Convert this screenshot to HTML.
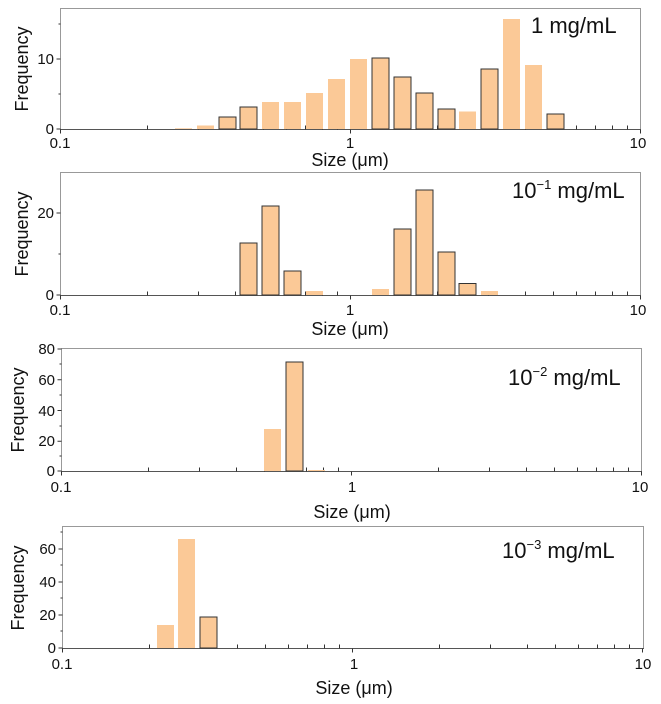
<!DOCTYPE html>
<html><head><meta charset="utf-8"><style>
body{margin:0;background:#fff}
svg{display:block;font-family:"Liberation Sans",sans-serif}
.b{fill:#fbc997}
.o{fill:#fbc997;stroke:#333;stroke-width:1}
.t{font-size:15px;fill:#111}
.l{font-size:18px;fill:#111}
.a{font-size:22px;fill:#111}
</style></head><body>
<svg width="661" height="704" viewBox="0 0 661 704">
<defs>
<g id="xt" stroke="#333" stroke-width="1">
<path d="M0 0v4M290 0v4M580 0v4M87 0v-4M138 0v-4M175 0v-4M203 0v-4M226 0v-4M245 0v-4M262 0v-4M277 0v-4M377 0v-4M428 0v-4M465 0v-4M493 0v-4M516 0v-4M535 0v-4M552 0v-4M567 0v-4"/>
</g>
</defs>

<!-- Panel 1 -->
<rect x="60.5" y="8.5" width="580" height="121" fill="none" stroke="#999"/>
<line x1="60" y1="129.5" x2="641" y2="129.5" stroke="#555"/>
<use href="#xt" x="60.5" y="129.5"/>
<g>
<rect class="b" x="175" y="128.3" width="17" height="0.7"/>
<rect class="b" x="197" y="125.5" width="17" height="3.5"/>
<rect class="o" x="219" y="117" width="17" height="12"/>
<rect class="o" x="240" y="107" width="17" height="22"/>
<rect class="b" x="262" y="102" width="17" height="27"/>
<rect class="b" x="284" y="102" width="17" height="27"/>
<rect class="b" x="306" y="93" width="17" height="36"/>
<rect class="b" x="328" y="79" width="17" height="50"/>
<rect class="b" x="350" y="59" width="17" height="70"/>
<rect class="o" x="372" y="58" width="17" height="71"/>
<rect class="o" x="394" y="77" width="17" height="52"/>
<rect class="o" x="416" y="93" width="17" height="36"/>
<rect class="o" x="438" y="109" width="17" height="20"/>
<rect class="b" x="459" y="111.5" width="17" height="17.5"/>
<rect class="o" x="481" y="69" width="17" height="60"/>
<rect class="b" x="503" y="19" width="17" height="110"/>
<rect class="b" x="525" y="65" width="17" height="64"/>
<rect class="o" x="547" y="114" width="17" height="15"/>
</g>
<path d="M60.5 59h-4M60.5 129h-4M60.5 94h-2M60.5 24h-2" stroke="#333"/>
<text class="t" x="54" y="64" text-anchor="end">10</text>
<text class="t" x="54" y="134" text-anchor="end">0</text>
<text class="t" x="60" y="148" text-anchor="middle">0.1</text>
<text class="t" x="350" y="148" text-anchor="middle">1</text>
<text class="t" x="638" y="148" text-anchor="middle">10</text>
<text class="l" x="350" y="166" text-anchor="middle">Size (μm)</text>
<text class="l" transform="translate(28 69) rotate(-90)" text-anchor="middle">Frequency</text>
<text class="a" x="531" y="33">1 mg/mL</text>

<!-- Panel 2 -->
<rect x="60.5" y="172.5" width="580" height="123" fill="none" stroke="#999"/>
<line x1="60" y1="295.5" x2="641" y2="295.5" stroke="#555"/>
<use href="#xt" x="60.5" y="295.5"/>
<rect class="o" x="240" y="243" width="17" height="52"/>
<rect class="o" x="262" y="206" width="17" height="89"/>
<rect class="o" x="284" y="271" width="17" height="24"/>
<rect class="b" x="306" y="291" width="17" height="4"/>
<rect class="b" x="372" y="289" width="17" height="6"/>
<rect class="o" x="394" y="229" width="17" height="66"/>
<rect class="o" x="416" y="190" width="17" height="105"/>
<rect class="o" x="438" y="252" width="17" height="43"/>
<rect class="o" x="459" y="283.5" width="17" height="11.5"/>
<rect class="b" x="481" y="291" width="17" height="4"/>
<path d="M60.5 213h-4M60.5 295h-4M60.5 254h-2" stroke="#333"/>
<text class="t" x="54" y="218" text-anchor="end">20</text>
<text class="t" x="54" y="300" text-anchor="end">0</text>
<text class="t" x="60" y="315" text-anchor="middle">0.1</text>
<text class="t" x="350" y="315" text-anchor="middle">1</text>
<text class="t" x="638" y="315" text-anchor="middle">10</text>
<text class="l" x="350" y="335" text-anchor="middle">Size (μm)</text>
<text class="l" transform="translate(28 234) rotate(-90)" text-anchor="middle">Frequency</text>
<text class="a" x="512" y="198">10<tspan font-size="13" dy="-9">−1</tspan><tspan dy="9"> mg/mL</tspan></text>

<!-- Panel 3 -->
<rect x="61.5" y="348.5" width="580" height="123" fill="none" stroke="#999"/>
<line x1="61" y1="471.5" x2="642" y2="471.5" stroke="#555"/>
<use href="#xt" x="61.5" y="471.5"/>
<rect class="b" x="264" y="429" width="17" height="42"/>
<rect class="o" x="286" y="362" width="17" height="109"/>
<rect class="b" x="308" y="470" width="17" height="1"/>
<path d="M61.5 349h-4M61.5 379.75h-4M61.5 410.5h-4M61.5 441.25h-4M61.5 471h-4M61.5 364h-2M61.5 395h-2M61.5 426h-2M61.5 456h-2" stroke="#333"/>
<text class="t" x="55" y="354" text-anchor="end">80</text>
<text class="t" x="55" y="385" text-anchor="end">60</text>
<text class="t" x="55" y="416" text-anchor="end">40</text>
<text class="t" x="55" y="446" text-anchor="end">20</text>
<text class="t" x="55" y="476" text-anchor="end">0</text>
<text class="t" x="61" y="492" text-anchor="middle">0.1</text>
<text class="t" x="352" y="492" text-anchor="middle">1</text>
<text class="t" x="640" y="492" text-anchor="middle">10</text>
<text class="l" x="352" y="518" text-anchor="middle">Size (μm)</text>
<text class="l" transform="translate(24 410) rotate(-90)" text-anchor="middle">Frequency</text>
<text class="a" x="508" y="385">10<tspan font-size="13" dy="-9">−2</tspan><tspan dy="9"> mg/mL</tspan></text>

<!-- Panel 4 -->
<rect x="62.5" y="526.5" width="581" height="122" fill="none" stroke="#999"/>
<line x1="62" y1="648.5" x2="644" y2="648.5" stroke="#555"/>
<use href="#xt" x="62.5" y="648.5"/>
<rect class="b" x="157" y="625" width="17" height="23"/>
<rect class="b" x="178" y="539" width="17" height="109"/>
<rect class="o" x="200" y="617" width="17" height="31"/>
<path d="M62.5 648h-4M62.5 615h-4M62.5 582h-4M62.5 549h-4M62.5 631h-2M62.5 598h-2M62.5 565h-2M62.5 532h-2" stroke="#333"/>
<text class="t" x="56" y="554" text-anchor="end">60</text>
<text class="t" x="56" y="587" text-anchor="end">40</text>
<text class="t" x="56" y="620" text-anchor="end">20</text>
<text class="t" x="56" y="653" text-anchor="end">0</text>
<text class="t" x="62" y="669" text-anchor="middle">0.1</text>
<text class="t" x="354" y="669" text-anchor="middle">1</text>
<text class="t" x="643" y="669" text-anchor="middle">10</text>
<text class="l" x="354" y="694" text-anchor="middle">Size (μm)</text>
<text class="l" transform="translate(24 588) rotate(-90)" text-anchor="middle">Frequency</text>
<text class="a" x="502" y="558">10<tspan font-size="13" dy="-9">−3</tspan><tspan dy="9"> mg/mL</tspan></text>
</svg>
</body></html>
